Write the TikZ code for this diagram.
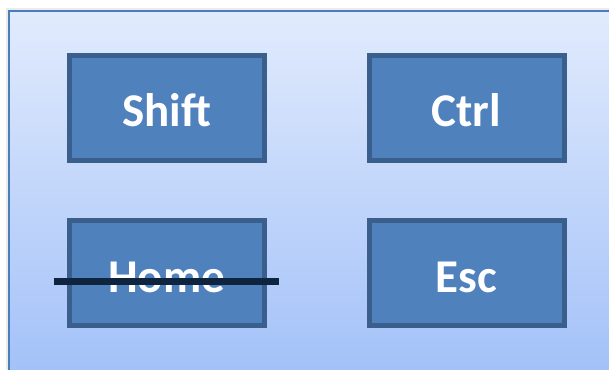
\documentclass[tikz,border=0pt]{standalone}
\usepackage{fontspec}
\setmainfont{Carlito}
\usepackage{tikz}
\usetikzlibrary{positioning}
\definecolor{keyfill}{HTML}{4F81BD}
\definecolor{keyline}{HTML}{3A5F8C}
\definecolor{paneltop}{HTML}{E1EBFD}
\definecolor{panelbot}{HTML}{A3C1F8}
\definecolor{panelline}{HTML}{4A7EBB}
\definecolor{strike}{HTML}{0F243E}
\tikzset{font=\bfseries\fontsize{47}{50}\selectfont}
\tikzset{key/.style={draw=keyline,fill=keyfill,line width=5pt,text=white,
  minimum width=195pt,minimum height=105pt,inner sep=0pt,
  text height=38pt,text depth=0pt}}

\begin{document}
\begin{tikzpicture}[x=1pt,y=1pt]
  \useasboundingbox (0,0) rectangle (609,369);
  \fill[black,opacity=.08] (6,-5) rectangle (615,361);
  \shade[top color=paneltop,bottom color=panelbot,draw=panelline,line width=1.5pt]
    (9,-5) rectangle (615,358);
  \node[key] (shift) at (166.5,261) {Shift};
  \node[key,right=100pt of shift] (ctrl) {Ctrl};
  \node[key,below=55pt of shift] (home) {Home};
  \node[key,below=55pt of ctrl] (esc) {Esc};
  \coordinate (a) at ([xshift=-12.5pt,yshift=-9pt]home.west);
  \coordinate (b) at ([xshift=12.5pt,yshift=-9pt]home.east);
  \draw[strike,line width=7pt] (a) -- (b);
\end{tikzpicture}
\end{document}
